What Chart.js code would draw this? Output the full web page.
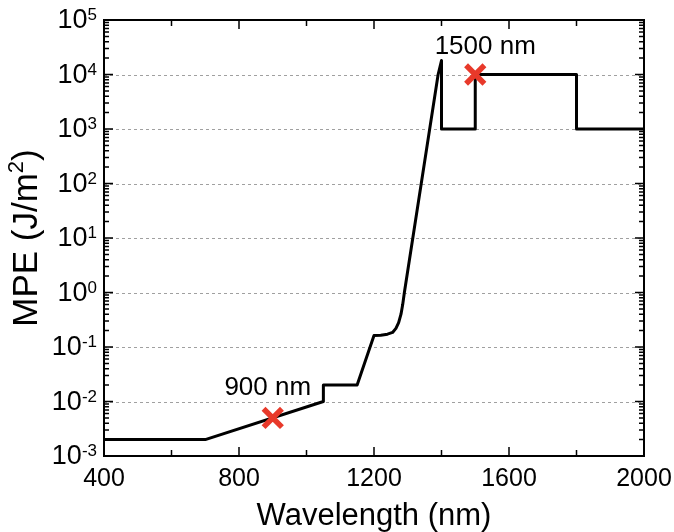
<!DOCTYPE html>
<html>
<head>
<meta charset="utf-8">
<script src="https://cdn.jsdelivr.net/npm/chart.js@4"></script>
<style>
  body { margin: 0; background: #fff; }
  #wrap { width: 674px; height: 532px; }
</style>
</head>
<body>
<div id="wrap"><canvas id="mpe" width="674" height="532"></canvas></div>
<script>
// MPE curve
var wavelengths = [400, 700, 1050, 1050, 1150, 1200, 1220, 1240, 1255, 1265, 1273, 1280, 1285, 1290,
                   1315, 1340, 1365, 1390, 1400, 1400, 1500, 1500, 1800, 1800, 2000];
var mpeValues = [0.002, 0.002, 0.01, 0.02, 0.02, 0.163, 0.165, 0.172, 0.185, 0.22, 0.28, 0.4, 0.6, 1.0,
                 10, 100, 1000, 10000, 18000, 1000, 1000, 10000, 10000, 1000, 1000];

// marked wavelengths
var markerWavelengths = [900, 1500];
var markerValues = [0.005, 10000];
var markerLabels = ["900 nm", "1500 nm"];

// axis ticks
var xTicks = [400, 800, 1200, 1600, 2000];
var xMinorTicks = [600, 1000, 1400, 1800];
var yExponents = [-3, -2, -1, 0, 1, 2, 3, 4, 5];

var FONT = "'Liberation Sans', Arial, sans-serif";

function toPoints(xs, ys) {
    var pts = [];
    xs.forEach((x, i) => pts.push({x: x, y: ys[i]}));
    return pts;
}

var framePlugin = {
    id: "frame",
    beforeDatasetsDraw(chart) {
        var ctx = chart.ctx, a = chart.chartArea, ys = chart.scales.y;
        ctx.save();
        ctx.strokeStyle = "#a0a0a0";
        ctx.lineWidth = 1;
        ctx.setLineDash([3, 3]);
        yExponents.forEach(e => {
            if (e == yExponents[0] || e == yExponents[yExponents.length - 1]) return;
            var y = Math.round(ys.getPixelForValue(10 ** e)) + 0.5;
            ctx.beginPath();
            ctx.moveTo(a.left, y);
            ctx.lineTo(a.right, y);
            ctx.stroke();
        });
        ctx.restore();
    },
    afterDatasetsDraw(chart) {
        var ctx = chart.ctx, a = chart.chartArea;
        var xs = chart.scales.x, ys = chart.scales.y;
        ctx.save();
        ctx.strokeStyle = "#000";
        ctx.lineWidth = 1.5;

        // inward ticks, x
        xTicks.concat(xMinorTicks).forEach(v => {
            var len = xTicks.includes(v) ? 9 : 6;
            var x = xs.getPixelForValue(v);
            ctx.beginPath();
            ctx.moveTo(x, a.bottom); ctx.lineTo(x, a.bottom - len);
            ctx.moveTo(x, a.top); ctx.lineTo(x, a.top + len);
            ctx.stroke();
        });
        // inward ticks, y (log minor ticks)
        yExponents.forEach(e => {
            for (let m = 1; m <= 9; m++) {
                var v = m * 10 ** e;
                if (v > 10 ** yExponents[yExponents.length - 1]) break;
                var len = m == 1 ? 9 : 5;
                var y = ys.getPixelForValue(v);
                ctx.beginPath();
                ctx.moveTo(a.left, y); ctx.lineTo(a.left + len, y);
                ctx.moveTo(a.right, y); ctx.lineTo(a.right - len, y);
                ctx.stroke();
            }
        });

        // frame
        ctx.lineWidth = 2;
        ctx.strokeRect(a.left, a.top, a.right - a.left, a.bottom - a.top);

        // x tick labels
        ctx.fillStyle = "#000";
        ctx.font = "25px " + FONT;
        ctx.textAlign = "center";
        ctx.textBaseline = "alphabetic";
        xTicks.forEach(v => ctx.fillText(String(v), xs.getPixelForValue(v), a.bottom + 30));

        // y tick labels: 10^n
        yExponents.forEach(e => {
            var y = ys.getPixelForValue(10 ** e);
            var exp = String(e);
            ctx.font = "17px " + FONT;
            var ew = ctx.measureText(exp).width;
            var right = a.left - 7;
            ctx.textAlign = "left";
            ctx.textBaseline = "alphabetic";
            ctx.fillText(exp, right - ew, y);
            ctx.font = "27px " + FONT;
            ctx.textAlign = "right";
            ctx.textBaseline = "middle";
            ctx.fillText("10", right - ew, y + 1);
        });

        // axis titles
        ctx.font = "31px " + FONT;
        ctx.textAlign = "center";
        ctx.textBaseline = "alphabetic";
        ctx.fillText("Wavelength (nm)", (a.left + a.right) / 2, 525);

        ctx.translate(37, (a.top + a.bottom) / 2);
        ctx.rotate(-Math.PI / 2);
        var big = "35px " + FONT, small = "22px " + FONT;
        ctx.font = big;
        var w1 = ctx.measureText("MPE (J/m").width;
        var w3 = ctx.measureText(")").width;
        ctx.font = small;
        var w2 = ctx.measureText("2").width;
        var x0 = -(w1 + w2 + w3) / 2;
        ctx.textAlign = "left";
        ctx.font = big;
        ctx.fillText("MPE (J/m", x0, 0);
        ctx.font = small;
        ctx.fillText("2", x0 + w1, -14);
        ctx.font = big;
        ctx.fillText(")", x0 + w1 + w2, 0);
        ctx.restore();

        // marker labels
        ctx.save();
        ctx.fillStyle = "#000";
        ctx.font = "26px " + FONT;
        ctx.textAlign = "center";
        ctx.textBaseline = "alphabetic";
        var offsets = [[-5, -23], [10, -21]];
        markerLabels.forEach((label, i) => {
            var x = xs.getPixelForValue(markerWavelengths[i]);
            var y = ys.getPixelForValue(markerValues[i]);
            ctx.fillText(label, x + offsets[i][0], y + offsets[i][1]);
        });
        ctx.restore();
    }
};

new Chart("mpe", {
    type: "scatter",
    data: {
        datasets: [
            {
                data: toPoints(wavelengths, mpeValues),
                showLine: true,
                borderColor: "#000",
                borderWidth: 3,
                borderJoinStyle: "round",
                pointRadius: 0,
                fill: false,
                tension: 0,
                order: 2
            },
            {
                data: toPoints(markerWavelengths, markerValues),
                showLine: false,
                pointStyle: "crossRot",
                pointRadius: 13,
                borderColor: "#e8392a",
                borderWidth: 5.5,
                order: 1
            }
        ]
    },
    options: {
        responsive: false,
        animation: false,
        layout: { padding: { left: 104, top: 20, right: 30, bottom: 76 } },
        plugins: { legend: { display: false }, tooltip: { enabled: false } },
        scales: {
            x: { type: "linear", min: 400, max: 2000, display: false },
            y: { type: "logarithmic", min: 0.001, max: 100000, display: false }
        }
    },
    plugins: [framePlugin]
});
</script>
</body>
</html>
